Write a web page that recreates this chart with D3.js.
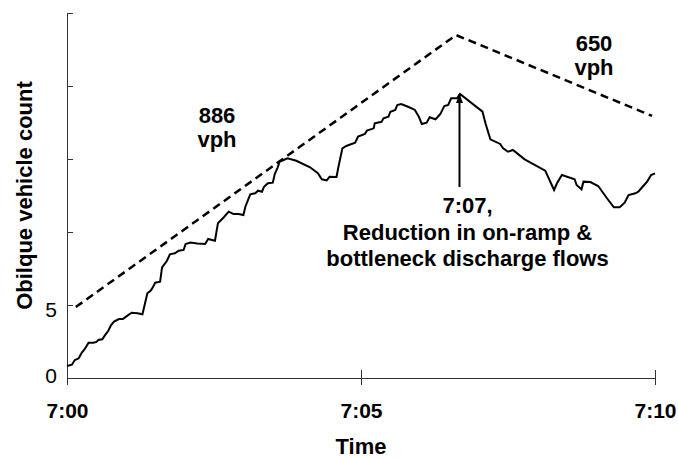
<!DOCTYPE html>
<html>
<head>
<meta charset="utf-8">
<script src="https://cdn.jsdelivr.net/npm/d3@7"></script>
<style>
  body { margin: 0; background: #fff; }
  svg text { font-family: "Liberation Sans", Arial, sans-serif; fill: #000; }
  .bold { font-weight: bold; }
</style>
</head>
<body>
<div id="chart"></div>
<script>
// ---- data (time in seconds after 7:00, oblique count) ----
const obsSeconds = [0, 5, 8, 12, 15, 18, 22, 27, 30, 32, 36, 39, 42, 45, 48, 53, 57, 62, 66, 72, 77,
  82, 85, 87, 90, 95, 97, 102, 105, 110, 114, 119, 121, 126, 133, 141, 144, 151, 154, 160, 165,
  170, 175, 180, 182, 187, 192, 195, 199, 201, 205, 210, 212, 215, 217, 221, 225, 234, 248, 256,
  260, 265, 268, 275, 277, 281, 285, 294, 297, 304, 306, 313, 314, 321, 323, 328, 330, 335, 337,
  341, 348, 355, 359, 362, 367, 370, 376, 378, 381, 385, 389, 392, 398, 401, 424, 427, 432, 442,
  445, 450, 455, 467, 488, 497, 500, 505, 518, 520, 525, 527, 534, 542, 551, 558, 564, 569, 573,
  580, 583, 588, 592, 596, 600];
const obsCounts = [0.82, 0.91, 1.23, 1.35, 1.73, 1.97, 2.42, 2.42, 2.47, 2.6, 2.65, 2.95, 3.22, 3.63,
  3.86, 4.04, 4.04, 4.29, 4.47, 4.43, 4.36, 5.8, 5.96, 6.14, 6.53, 6.6, 7.58, 8.03, 8.47, 8.54, 8.72,
  8.77, 9.18, 9.28, 9.21, 9.18, 9.52, 9.4, 10.6, 11.01, 11.39, 11.23, 11.23, 11.16, 11.73, 12.58,
  12.65, 12.83, 12.76, 13.1, 13.34, 13.38, 13.97, 14.43, 14.82, 14.93, 15.05, 14.88, 14.43, 14.02,
  13.61, 13.53, 13.79, 13.77, 14.47, 15.73, 15.89, 16.12, 16.53, 16.71, 16.94, 17.1, 17.45, 17.55,
  17.79, 17.9, 18.24, 18.36, 18.7, 18.77, 18.58, 18.36, 17.9, 17.4, 17.49, 17.86, 17.72, 17.86,
  18.08, 18.63, 18.7, 19.16, 19.16, 19.45, 18.24, 17.45, 16.35, 16.03, 15.73, 15.5, 15.62, 14.98,
  14.2, 12.88, 13.34, 13.9, 13.61, 13.22, 12.92, 13.45, 13.42, 13.15, 12.31, 11.69, 11.69, 12.01,
  12.53, 12.65, 12.76, 13.15, 13.45, 13.9, 14.02];

// dashed reference rates: 886 vph then 650 vph
const rateSeconds = [9, 397, 597];
const rateCounts = [4.86, 23.49, 17.95];

const xTicks = [0, 300, 600];
const xTickLabels = ["7:00", "7:05", "7:10"];
const yTicks = [0, 5, 10, 15, 20, 25];
const yTickLabels = ["0", "5", "", "", "", ""];

// annotation arrow: time, from count, to count
const arrowAt = { t: 400.5, from: 13.08, to: 19.45 };

const svgWidth = 678, svgHeight = 458;
const margin = { top: 13, right: 23, bottom: 80, left: 67 };
const width = svgWidth - margin.left - margin.right;
const height = svgHeight - margin.top - margin.bottom;

const svg = d3.select("#chart").append("svg")
  .attr("width", svgWidth)
  .attr("height", svgHeight);

const g = svg.append("g")
  .attr("transform", `translate(${margin.left},${margin.top})`);

const x = d3.scaleLinear().domain([0, 600]).range([0, width]);
const y = d3.scaleLinear().domain([0, 25]).range([height, 0]);

// y axis, ticks point inward
const yAxis = g.append("g")
  .call(d3.axisLeft(y).tickValues(yTicks).tickSize(-6).tickSizeOuter(0)
    .tickFormat((d, i) => yTickLabels[i]));
yAxis.select(".domain").attr("stroke", "#333");
yAxis.selectAll(".tick line").attr("stroke", "#333");
yAxis.selectAll(".tick text")
  .attr("x", -10)
  .attr("dy", d => d === 0 ? "0.19em" : "0.57em")
  .style("font-size", "21px");

// x axis, ticks cross the line
const xAxis = g.append("g")
  .attr("transform", `translate(0,${height})`)
  .call(d3.axisBottom(x).tickValues(xTicks).tickSize(7).tickSizeOuter(0)
    .tickFormat((d, i) => xTickLabels[i]));
xAxis.select(".domain").attr("stroke", "#333");
xAxis.selectAll(".tick line").attr("stroke", "#333");
xAxis.selectAll(".tick text")
  .attr("y", 40).attr("dy", 0)
  .attr("class", "bold")
  .style("font-size", "21px");

const xInner = g.append("g")
  .attr("transform", `translate(0,${height})`)
  .call(d3.axisBottom(x).tickValues(xTicks.slice(1)).tickSize(-8).tickFormat(""));
xInner.select(".domain").remove();
xInner.selectAll(".tick line").attr("stroke", "#333");

// labels
svg.append("text")
  .attr("class", "bold")
  .attr("x", margin.left + width / 2)
  .attr("y", 454)
  .attr("text-anchor", "middle")
  .style("font-size", "22px")
  .text("Time");

svg.append("text")
  .attr("class", "bold")
  .attr("transform", `translate(32,${195.5}) rotate(-90)`)
  .attr("text-anchor", "middle")
  .style("font-size", "22px")
  .text("Obilque vehicle count");

// dashed line
const line = d3.line().x(d => x(d[0])).y(d => y(d[1]));

g.append("path")
  .datum(d3.zip(rateSeconds, rateCounts))
  .attr("d", line)
  .attr("fill", "none")
  .attr("stroke", "#000")
  .attr("stroke-width", 2.5)
  .attr("stroke-dasharray", "8,5");

// observed curve
g.append("path")
  .datum(d3.zip(obsSeconds, obsCounts))
  .attr("d", line)
  .attr("fill", "none")
  .attr("stroke", "#000")
  .attr("stroke-width", 2)
  .attr("stroke-linejoin", "miter");

// arrow
svg.append("defs").append("marker")
  .attr("id", "arrowhead")
  .attr("markerUnits", "userSpaceOnUse")
  .attr("markerWidth", 10).attr("markerHeight", 10)
  .attr("refX", 9).attr("refY", 3.5)
  .attr("orient", "auto")
  .append("path")
  .attr("d", "M0,0 L9,3.5 L0,7 Z")
  .attr("fill", "#000");

g.append("line")
  .attr("x1", x(arrowAt.t)).attr("x2", x(arrowAt.t))
  .attr("y1", y(arrowAt.from)).attr("y2", y(arrowAt.to))
  .attr("stroke", "#000")
  .attr("stroke-width", 2)
  .attr("marker-end", "url(#arrowhead)");

// annotations
function block(cx, y0, lines, lh) {
  const t = svg.append("text")
    .attr("class", "bold")
    .attr("text-anchor", "middle")
    .style("font-size", "22px");
  lines.forEach((s, i) => {
    t.append("tspan").attr("x", cx).attr("y", y0 + i * lh).text(s);
  });
}
block(217, 123, ["886", "vph"], 24);
block(594, 51, ["650", "vph"], 24);
block(467.5, 213, ["7:07,", "Reduction in on-ramp &", "bottleneck discharge flows"], 26.5);
</script>
</body>
</html>
